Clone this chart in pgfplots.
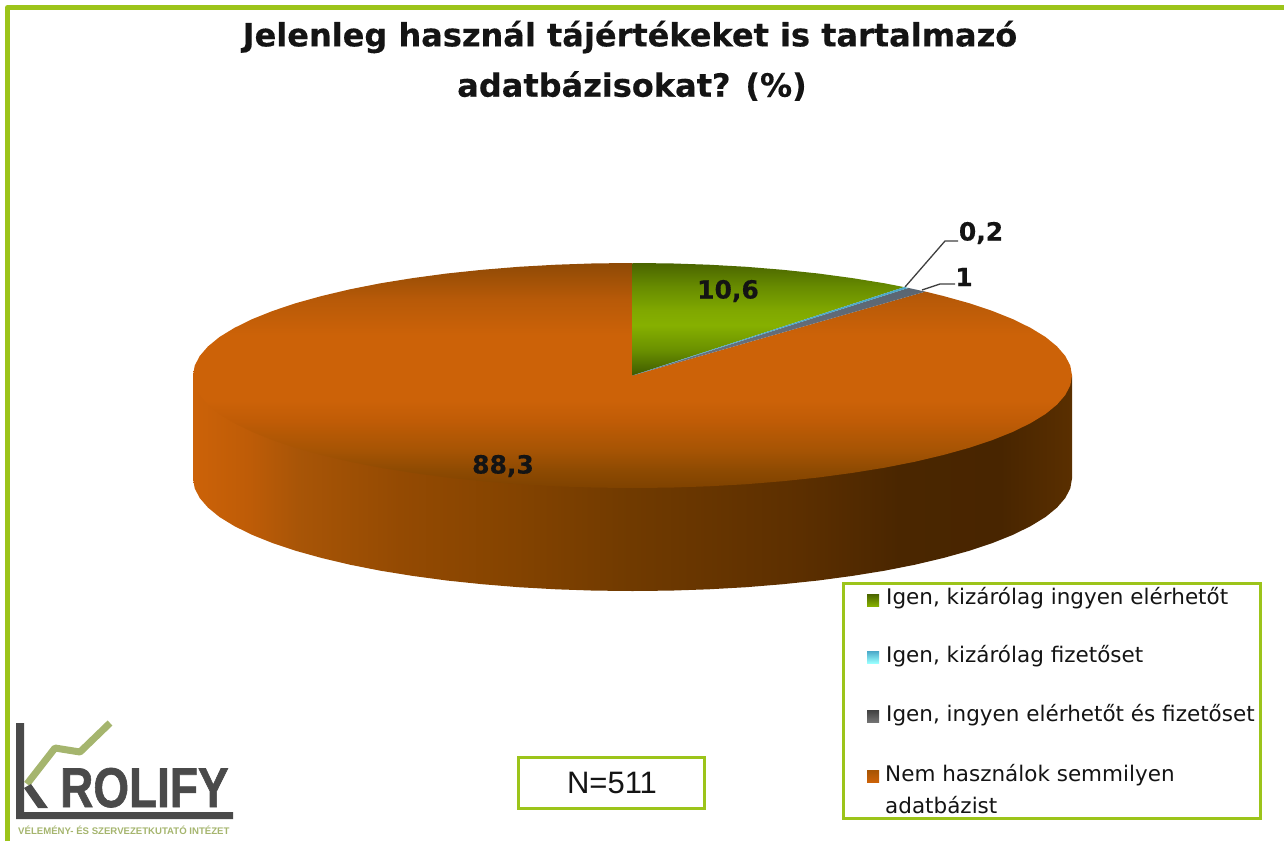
\documentclass[border=0pt]{standalone}
\usepackage{fontspec}
\usepackage{pgfplots}
\pgfplotsset{compat=1.18}
\setmainfont{DejaVu Sans}
\newfontfamily\lib{Liberation Sans}
\newfontfamily\libb{Liberation Sans Bold}[FakeBold=1.2]
\newfontfamily\heavy{DejaVu Sans Bold}[FakeBold=0.4]
\definecolor{frameg}{HTML}{9CC41A}
\definecolor{oa}{HTML}{7E4200}\definecolor{ob}{HTML}{8E4A02}\definecolor{oc}{HTML}{A65404}\definecolor{od}{HTML}{C05C06}\definecolor{oe}{HTML}{CC6208}\definecolor{of}{HTML}{B85A08}\definecolor{og}{HTML}{8F4A05}
\pgfdeclareverticalshading{orangetop}{100bp}{color(0bp)=(oa);color(25bp)=(oa);color(29bp)=(ob);color(33.4bp)=(oc);color(40bp)=(od);color(44.4bp)=(oe);color(59bp)=(oe);color(66.8bp)=(of);color(75bp)=(og);color(100bp)=(og)}
\definecolor{ga}{HTML}{3E5A00}\definecolor{gb}{HTML}{6A9000}\definecolor{gc}{HTML}{86B000}\definecolor{gd}{HTML}{80A800}\definecolor{ge}{HTML}{668A00}\definecolor{gf}{HTML}{4A6400}
\pgfdeclareverticalshading{greentop}{100bp}{color(0bp)=(ga);color(25bp)=(ga);color(36.3bp)=(gb);color(47.4bp)=(gc);color(54bp)=(gd);color(65bp)=(ge);color(75bp)=(gf);color(100bp)=(gf)}
\definecolor{wa}{HTML}{CC6208}\definecolor{wb}{HTML}{BE5C07}\definecolor{wc}{HTML}{A85507}\definecolor{wd}{HTML}{944A02}\definecolor{we}{HTML}{864400}\definecolor{wf}{HTML}{703A00}\definecolor{wg}{HTML}{5C2F00}\definecolor{wh}{HTML}{4A2600}\definecolor{wi}{HTML}{482500}\definecolor{wj}{HTML}{5A2F00}
\pgfdeclarehorizontalshading{wall}{100bp}{color(0bp)=(wa);color(25bp)=(wa);color(28.2bp)=(wb);color(31bp)=(wc);color(36.8bp)=(wd);color(42.5bp)=(we);color(50bp)=(wf);color(59.5bp)=(wg);color(65.2bp)=(wh);color(70.9bp)=(wi);color(75bp)=(wj);color(100bp)=(wj)}
\definecolor{logod}{HTML}{4A4A4A}\definecolor{logog}{HTML}{A5B56E}
\definecolor{ink}{HTML}{141414}
\definecolor{greyt}{HTML}{5A6672}\definecolor{greyb}{HTML}{6E7480}\definecolor{bluew}{HTML}{4AA8C8}
\begin{document}
\begin{tikzpicture}
\begin{axis}[scale only axis,width=1284pt,height=841pt,xmin=0,xmax=1284,ymin=0,ymax=841,y dir=reverse,hide axis,no markers,clip=true]
\addplot[draw=white,line width=0pt,forget plot] coordinates {(0,0)(1284,841)};
% outer frame (top and left)
\addplot[draw=frameg,line width=5pt,line join=round] coordinates {(7.5,841)(7.5,7.5)(1284,7.5)};
% wall
\addplot[draw=none,shade,shading=wall] coordinates {
(193.0,375.5)(1072.0,375.5)
(1072.0,478.5)(1070.3,488.3)(1065.3,498.0)(1057.0,507.6)(1045.5,517.0)(1030.8,526.0)(1013.1,534.75)(992.5,543.0)(969.2,550.8)(943.3,558.0)(915.0,564.7)(884.6,570.7)(852.3,575.9)(818.2,580.5)(782.8,584.2)(746.3,587.2)(708.8,589.3)(670.8,590.6)(632.5,591.0)(594.2,590.6)(556.2,589.3)(518.7,587.2)(482.2,584.2)(446.8,580.5)(412.7,575.9)(380.4,570.7)(350.0,564.7)(321.7,558.0)(295.8,550.8)(272.5,543.0)(251.9,534.75)(234.2,526.0)(219.5,517.0)(208.0,507.6)(199.7,498.0)(194.7,488.3)(193.0,478.5)
} --cycle;
% orange sector 88.3
\addplot[draw=none,shade,shading=orangetop] coordinates {
(632.5,375.5)(925.4,291.6)(943.3,296.0)(969.2,303.2)(992.5,311.0)(1013.1,319.25)(1030.8,328.0)(1045.5,337.0)(1057.0,346.4)(1065.3,356.0)(1070.3,365.7)(1072.0,375.5)
(1070.3,385.3)(1065.3,395.0)(1057.0,404.6)(1045.5,414.0)(1030.8,423.0)(1013.1,431.75)(992.5,440.0)(969.2,447.8)(943.3,455.0)(915.0,461.7)(884.6,467.7)(852.3,472.9)(818.2,477.5)(782.8,481.2)(746.3,484.2)(708.8,486.3)(670.8,487.6)(632.5,488.0)(594.2,487.6)(556.2,486.3)(518.7,484.2)(482.2,481.2)(446.8,477.5)(412.7,472.9)(380.4,467.7)(350.0,461.7)(321.7,455.0)(295.8,447.8)(272.5,440.0)(251.9,431.75)(234.2,423.0)(219.5,414.0)(208.0,404.6)(199.7,395.0)(194.7,385.3)(193.0,375.5)
(194.7,365.7)(199.7,356.0)(208.0,346.4)(219.5,337.0)(234.2,328.0)(251.9,319.25)(272.5,311.0)(295.8,303.2)(321.7,296.0)(350.0,289.3)(380.4,283.3)(412.7,278.1)(446.8,273.5)(482.2,269.8)(518.7,266.8)(556.2,264.7)(594.2,263.4)(632.5,263.0)
} --cycle;
% green sector 10.6
\addplot[draw=none,shade,shading=greentop] coordinates {
(632.5,375.5)(632.5,263.0)(670.8,263.4)(708.8,264.7)(746.3,266.8)(782.8,269.8)(818.2,273.5)(852.3,278.1)(884.6,283.3)(904.1,287.1)
} --cycle;
% grey sector 1
\addplot[draw=none,shade,top color=greyt,bottom color=greyb] coordinates {
(632.5,375.5)(908.4,287.9)(917.9,290.0)(925.4,291.6)
} --cycle;
% blue sector 0.2
\addplot[draw=none,fill=bluew] coordinates {
(632.5,375.5)(904.1,287.1)(908.4,287.9)
} --cycle;
% leader lines
\addplot[draw=black!75,line width=1.3pt] coordinates {(905,287)(945,241)(958,241)};
\addplot[draw=black!75,line width=1.3pt] coordinates {(922,290)(940,284)(955,284)};
% legend box
\addplot[draw=frameg,line width=3pt,line join=miter] coordinates {(843.5,583.5)(1260,583.5)(1260,818)(843.5,818)} --cycle;
% N box
\addplot[draw=frameg,line width=3pt,line join=miter] coordinates {(518.5,757.5)(704,757.5)(704,808)(518.5,808)} --cycle;
% legend keys
\addplot[draw=none,shade,top color=gf,bottom color=gc] coordinates {(867,594)(879,594)(879,606)(867,606)} --cycle;
\addplot[draw=none,shade,top color=bluew,bottom color=cyan!40!white] coordinates {(867,651)(879,651)(879,663)(867,663)} --cycle;
\addplot[draw=none,shade,top color=black!75,bottom color=black!55] coordinates {(867,710)(879,710)(879,722)(867,722)} --cycle;
\addplot[draw=none,shade,top color=oc,bottom color=oe] coordinates {(867,770)(879,770)(879,782)(867,782)} --cycle;
% logo
\addplot[draw=logog,line width=7pt,line join=round] coordinates {(27,784)(55,748)(80,752)(110,723)};
\addplot[draw=none,fill=logod] coordinates {(16,723)(24,723)(24,812)(233,812)(233,819)(16,819)} --cycle;
\addplot[draw=none,fill=logod] coordinates {(24,788)(31,784)(48,808)(38,808)} --cycle;
% text
\node[text=ink,anchor=center,font=\heavy\fontsize{32}{32}\selectfont] at (axis cs:630,37) {Jelenleg használ tájértékeket is tartalmazó};
\node[text=ink,anchor=center,font=\heavy\fontsize{32}{32}\selectfont] at (axis cs:632,86) {adatbázisokat? (\%)};
\node[text=ink,font=\heavy\fontsize{25}{25}\selectfont] at (axis cs:728,291) {10,6};
\node[text=ink,font=\heavy\fontsize{25}{25}\selectfont] at (axis cs:503,466) {88,3};
\node[text=ink,font=\heavy\fontsize{25}{25}\selectfont] at (axis cs:981,233) {0,2};
\node[text=ink,font=\heavy\fontsize{25}{25}\selectfont] at (axis cs:964,277) {1};
\node[text=ink,anchor=west,inner sep=0pt,font=\fontsize{21.5}{21.5}\selectfont] at (axis cs:886,598) {Igen, kizárólag ingyen elérhetőt};
\node[text=ink,anchor=west,inner sep=0pt,font=\fontsize{21.5}{21.5}\selectfont] at (axis cs:886,656) {Igen, kizárólag fizetőset};
\node[text=ink,anchor=west,inner sep=0pt,font=\fontsize{21.5}{21.5}\selectfont] at (axis cs:886,715) {Igen, ingyen elérhetőt és fizetőset};
\node[text=ink,anchor=west,inner sep=0pt,font=\fontsize{21.5}{21.5}\selectfont] at (axis cs:885,775) {Nem használok semmilyen};
\node[text=ink,anchor=west,inner sep=0pt,font=\fontsize{21.5}{21.5}\selectfont] at (axis cs:885,805) {adatbázist};
\node[text=ink,font=\lib\fontsize{31}{31}\selectfont] at (axis cs:612,783) {N=511};
\node[anchor=base west,inner sep=0pt,text=logod,font=\libb\fontsize{56}{56}\selectfont] at (axis cs:60,807) {\scalebox{0.82}[1]{ROLIFY}};
\node[anchor=west,inner sep=0pt,text=logog,font=\lib\bfseries\fontsize{9.6}{10}\selectfont] at (axis cs:18,830) {VÉLEMÉNY- ÉS SZERVEZETKUTATÓ INTÉZET};
\end{axis}
\end{tikzpicture}
\end{document}
